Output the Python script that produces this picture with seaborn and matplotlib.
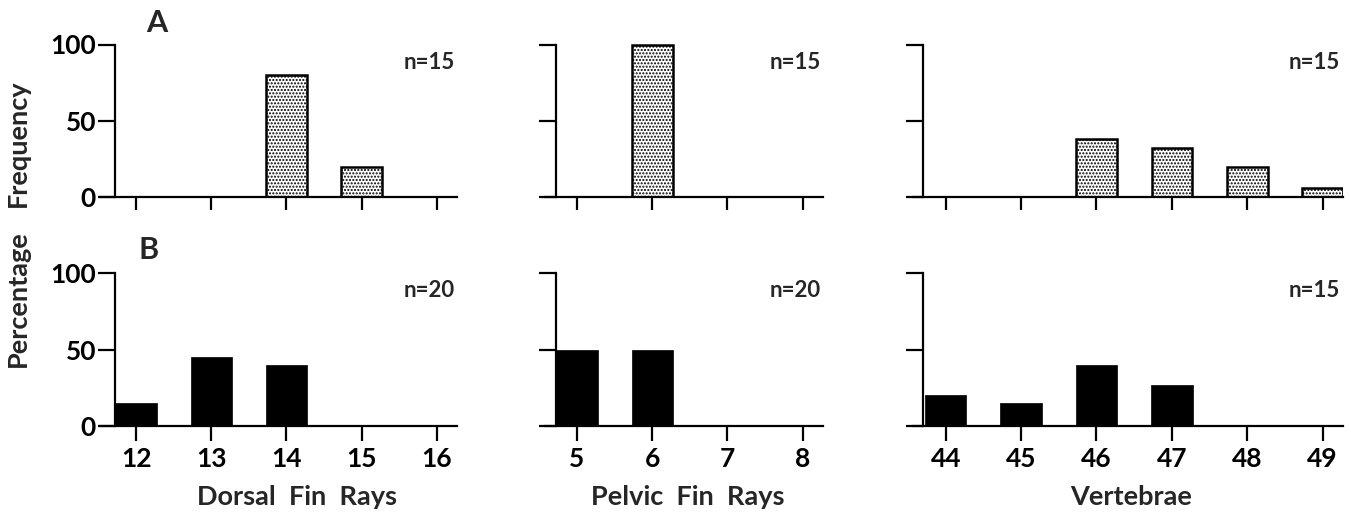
import seaborn as sns
import numpy as np
import pandas as pd
import matplotlib.pyplot as plt

# meristic counts and percentages (A = top row, B = bottom row)
dorsal_counts = [12, 13, 14, 15, 16]
dorsal_a = [0, 0, 80, 20, 0]
dorsal_b = [15, 45, 40, 0, 0]

pelvic_counts = [5, 6, 7, 8]
pelvic_a = [0, 100, 0, 0]
pelvic_b = [50, 50, 0, 0]

vert_counts = [44, 45, 46, 47, 48, 49]
vert_a = [0, 0, 38, 32, 20, 6]
vert_b = [20, 15, 40, 27, 0, 0]

n_a = ['n=15', 'n=15', 'n=15']
n_b = ['n=20', 'n=20', 'n=15']
xlabels = ['Dorsal  Fin  Rays', 'Pelvic  Fin  Rays', 'Vertebrae']

sns.set_style('white')
plt.rcParams['font.family'] = ['Lato', 'DejaVu Sans']
plt.rcParams['font.weight'] = 'bold'
plt.rcParams['axes.labelweight'] = 'bold'
plt.rcParams['hatch.linewidth'] = 1.0

W, H = 1351, 518
fig = plt.figure(figsize=(W / 100, H / 100), dpi=100)

# pixel layout: (axes left px, axes right px, data xmin, data xmax, spine x)
cols = [
    (100, 457, 11.52, 16.27, 11.725),
    (545, 823, 4.575, 8.27, 4.72),
    (913, 1343, 43.566, 49.27, 43.695),
]
# rows: (y of zero px, px per unit)
rows = [(197, 1.525), (426, 1.53)]
ytop = 105

panels = [
    [(dorsal_counts, dorsal_a), (pelvic_counts, pelvic_a), (vert_counts, vert_a)],
    [(dorsal_counts, dorsal_b), (pelvic_counts, pelvic_b), (vert_counts, vert_b)],
]
label_x = [0.552, 0.514, 0.507]

for r, (y0, ppu) in enumerate(rows):
    for c, (xl, xr, dmin, dmax, spx) in enumerate(cols):
        top = y0 - ytop * ppu
        ax = fig.add_axes([xl / W, 1 - y0 / H, (xr - xl) / W, (y0 - top) / H])
        counts, vals = panels[r][c]
        df = pd.DataFrame({'count': counts, 'pct': vals})
        df = df[df['pct'] > 0]
        if r == 0:
            sns.barplot(data=df, x='count', y='pct', native_scale=True, width=0.54,
                        color='white', edgecolor='black', linewidth=1.8,
                        hatch='.....', ax=ax)
        else:
            sns.barplot(data=df, x='count', y='pct', native_scale=True, width=0.55,
                        color='black', edgecolor='black', linewidth=0.5, ax=ax)
        for p in ax.patches:
            p.set_alpha(1)
        ax.set_xlim(dmin, dmax)
        ax.set_ylim(0, ytop)
        ax.set_xticks(counts)
        ax.set_yticks([0, 50, 100])
        for s in ['top', 'right']:
            ax.spines[s].set_visible(False)
        for s in ['left', 'bottom']:
            ax.spines[s].set_linewidth(1.6)
            ax.spines[s].set_color('black')
        ax.spines['left'].set_position(('data', spx))
        ax.spines['left'].set_bounds(0, 100)
        ax.tick_params(axis='y', direction='out', length=12.5, width=1.6, pad=1.5,
                       labelsize=19, left=True, colors='black')
        ax.tick_params(axis='x', direction='out', length=11 if r == 1 else 9.5,
                       width=1.6, pad=4, labelsize=19, bottom=True, colors='black')
        if c > 0:
            ax.set_yticklabels([])
        if r == 0:
            ax.set_xticklabels([])
            ax.set_xlabel('')
        else:
            ax.set_xlabel(xlabels[c], fontsize=19.5, va='center')
            ax.xaxis.set_label_coords(label_x[c], -0.442)
        ax.set_ylabel('')
        ntext = n_a[c] if r == 0 else n_b[c]
        ax.text(0.993, 88.5, ntext, transform=ax.get_yaxis_transform(),
                ha='right', va='center', fontsize=16)

fig.text(157 / W, 1 - 23 / H, 'A', fontsize=22, ha='center', va='center')
fig.text(149 / W, 1 - 250 / H, 'B', fontsize=22, ha='center', va='center')
fig.text(18 / W, 1 - 143 / H, 'Frequency', fontsize=19.5, rotation=90,
         ha='center', va='center')
fig.text(18 / W, 1 - 299 / H, 'Percentage', fontsize=19.5, rotation=90,
         ha='center', va='center')

fig.savefig('out.png', dpi=100, facecolor='white')
